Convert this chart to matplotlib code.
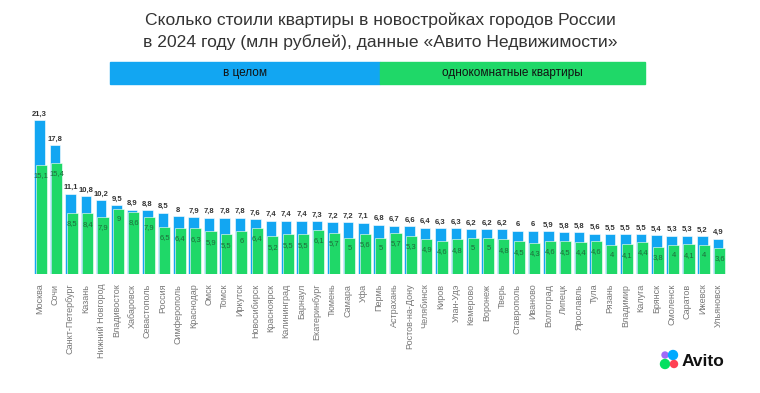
import matplotlib.pyplot as plt
from matplotlib.patches import Rectangle, Circle

plt.rcParams['font.family'] = ['Liberation Sans', 'DejaVu Sans']

cities = ['Москва', 'Сочи', 'Санкт-Петербург', 'Казань', 'Нижний Новгород',
          'Владивосток', 'Хабаровск', 'Севастополь', 'Россия', 'Симферополь',
          'Краснодар', 'Омск', 'Томск', 'Иркутск', 'Новосибирск', 'Красноярск',
          'Калининград', 'Барнаул', 'Екатеринбург', 'Тюмень', 'Самара', 'Уфа',
          'Пермь', 'Астрахань', 'Ростов-на-Дону', 'Челябинск', 'Киров',
          'Улан-Удэ', 'Кемерово', 'Воронеж', 'Тверь', 'Ставрополь', 'Иваново',
          'Волгоград', 'Липецк', 'Ярославль', 'Тула', 'Рязань', 'Владимир',
          'Калуга', 'Брянск', 'Смоленск', 'Саратов', 'Ижевск', 'Ульяновск']

total = [21.3, 17.8, 11.1, 10.8, 10.2, 9.5, 8.9, 8.8, 8.5, 8, 7.9, 7.8, 7.8,
         7.8, 7.6, 7.4, 7.4, 7.4, 7.3, 7.2, 7.2, 7.1, 6.8, 6.7, 6.6, 6.4, 6.3,
         6.3, 6.2, 6.2, 6.2, 6, 6, 5.9, 5.8, 5.8, 5.6, 5.5, 5.5, 5.5, 5.4, 5.3,
         5.3, 5.2, 4.9]

one_room = [15.1, 15.4, 8.5, 8.4, 7.9, 9, 8.6, 7.9, 6.5, 6.4, 6.3, 5.9, 5.5,
            6, 6.4, 5.2, 5.5, 5.5, 6.1, 5.7, 5, 5.6, 5, 5.7, 5.3, 4.9, 4.6,
            4.8, 5, 5, 4.8, 4.5, 4.3, 4.6, 4.5, 4.4, 4.6, 4, 4.1, 4.4, 3.8,
            4, 4.1, 4, 3.6]

blue = '#12A6F2'
green = '#1FD868'

def fmt(v):
    s = ('%.1f' % v).rstrip('0').rstrip('.')
    return s.replace('.', ',')

fig = plt.figure(figsize=(7.6, 3.93), dpi=100)

# title
fig.text(0.5, 1 - 20 / 393, 'Сколько стоили квартиры в новостройках городов России',
         ha='center', va='center', fontsize=12.6, color='#333333')
fig.text(0.5, 1 - 42 / 393, 'в 2024 году (млн рублей), данные «Авито Недвижимости»',
         ha='center', va='center', fontsize=12.6, color='#333333')

# legend banner
fig.patches.append(Rectangle((110 / 760, 1 - 84 / 393), 270 / 760, 22 / 393,
                             transform=fig.transFigure, color=blue, zorder=0))
fig.patches.append(Rectangle((380 / 760, 1 - 84 / 393), 265 / 760, 22 / 393,
                             transform=fig.transFigure, color=green, zorder=0))
fig.text(245 / 760, 1 - 73 / 393, 'в целом', ha='center', va='center',
         fontsize=8.5, color='#111111')
fig.text(512 / 760, 1 - 73 / 393, 'однокомнатные квартиры', ha='center',
         va='center', fontsize=8.5, color='#111111')

# bars
ax = fig.add_axes([22.8 / 760, 1 - 274 / 393, (740 - 22.8) / 760, 174 / 393])
x = list(range(len(cities)))
ax.bar(x, total, width=0.68, color=blue, edgecolor='white', linewidth=0.4, zorder=1)
ax.bar([i + 0.12 for i in x], one_room, width=0.72, color=green,
       edgecolor='white', linewidth=0.4, zorder=2)

for i in x:
    ax.text(i, total[i] + 0.35, fmt(total[i]), ha='center', va='bottom',
            fontsize=5.5, color='#333333', fontweight='bold')
    ax.text(i + 0.12, one_room[i] - 1.5, fmt(one_room[i]), ha='center',
            va='center', fontsize=5.5, color='#1E6B3A')

ax.set_xlim(-1.083, 45.43)
ax.set_ylim(0, 24.07)
ax.set_xticks(x)
ax.set_xticklabels(cities, rotation=90, fontsize=6.5, color='#777777')
ax.tick_params(axis='x', length=0, pad=7)
ax.set_yticks([])
for s in ax.spines.values():
    s.set_visible(False)

# Avito logo
lg = fig.add_axes([654 / 760, 1 - 376 / 393, 30 / 760, 30 / 393])
lg.set_xlim(0, 30)
lg.set_ylim(0, 30)
lg.set_aspect('equal')
lg.axis('off')
lg.add_patch(Circle((11, 21), 3, color='#A169F7'))
lg.add_patch(Circle((19, 21), 4.5, color='#00AAFF'))
lg.add_patch(Circle((11, 12), 4.5, color='#04E061'))
lg.add_patch(Circle((20, 12), 3.5, color='#FF4053'))
fig.text(682 / 760, 1 - 362 / 393, 'Avito', ha='left', va='center',
         fontsize=12.5, fontweight='bold', color='#111111')

plt.savefig('out.png', dpi=100)
